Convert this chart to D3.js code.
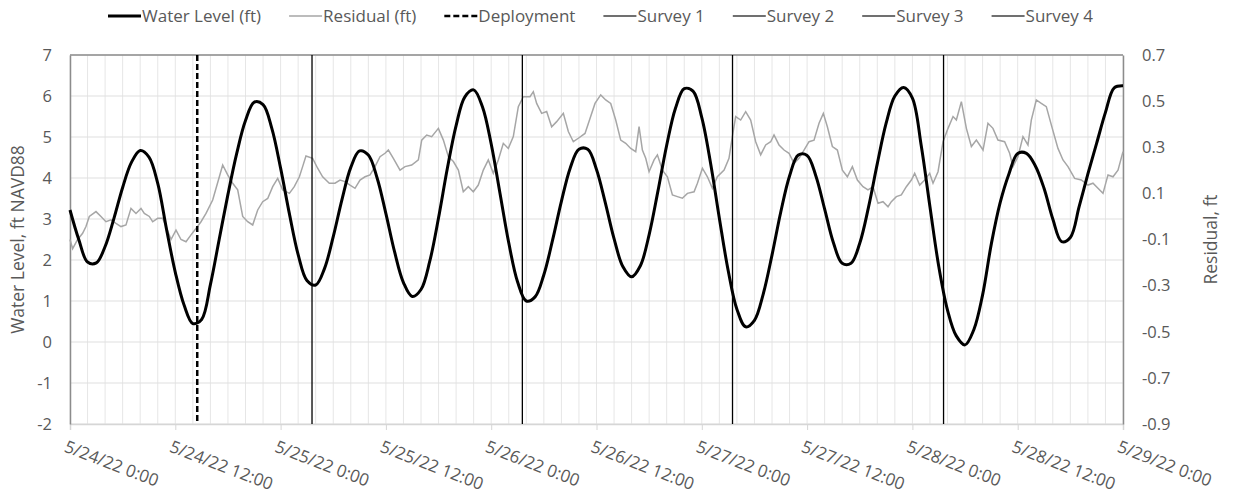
<!DOCTYPE html>
<html>
<head>
<meta charset="utf-8">
<script src="https://cdn.jsdelivr.net/npm/d3@7"></script>
<style>
  body { margin: 0; background: #fff; }
  svg text { font-family: "Open Sans", Lato, sans-serif; fill: #595959; }
</style>
</head>
<body>
<div id="chart"></div>
<script>
// water level every hour from 5/24/22 0:00 (ft NAVD88)
const waterLevel = [3.22, 2.5, 1.95, 1.93, 2.33, 3.01, 3.77, 4.38, 4.67, 4.51,
  3.87, 2.75, 1.7, 0.9, 0.45, 0.55, 1.4, 2.5, 3.6, 4.6,
  5.4, 5.85, 5.79, 5.21, 4.24, 3.13, 2.13, 1.5, 1.39, 1.79,
  2.57, 3.48, 4.26, 4.66, 4.56, 4.0, 3.13, 2.19, 1.45, 1.11,
  1.28, 1.97, 3.03, 4.23, 5.28, 5.98, 6.15, 5.74, 4.83, 3.63,
  2.42, 1.47, 1.0, 1.1, 1.64, 2.49, 3.43, 4.24, 4.7, 4.7,
  4.21, 3.4, 2.52, 1.84, 1.59, 1.86, 2.62, 3.68, 4.8, 5.7,
  6.18, 6.12, 5.47, 4.36, 3.02, 1.75, 0.8, 0.37, 0.53, 1.17,
  2.12, 3.17, 4.05, 4.56, 4.55, 4.05, 3.24, 2.42, 1.92, 1.92,
  2.41, 3.29, 4.35, 5.33, 6.0, 6.21, 5.95, 4.8, 3.3, 1.85,
  0.78, 0.15, -0.07, 0.3, 1.15, 2.4, 3.4, 4.1, 4.6, 4.6,
  4.3, 3.75, 3.0, 2.45, 2.55, 3.3, 4.1, 4.85, 5.6, 6.2, 6.25];

// residual (ft): hours after 5/24/22 0:00 and value
const resHours = [0, 0.3, 0.87, 1.44, 1.82, 2.2, 2.96, 3.53, 4.1, 4.67, 5.24, 5.81, 6.38, 6.95, 7.52, 8.09, 8.47, 9.04, 9.42, 9.99,
  10.56, 10.94, 11.51, 12.08, 12.65, 13.22, 13.79, 14.36, 14.93, 15.5, 16.26, 17.02, 17.4, 17.97, 18.54, 19.11, 19.68, 20.25, 20.82, 21.39,
  21.96, 22.53, 23.1, 23.67, 24.24, 25.0, 25.56, 26.14, 26.51, 26.89, 27.65, 28.22, 28.79, 29.55, 30.2, 30.77, 31.34, 31.91, 32.48, 33.05,
  33.62, 34.19, 34.76, 35.33, 35.9, 36.28, 36.85, 37.61, 38.18, 38.94, 39.7, 40.08, 40.65, 41.22, 41.98, 42.55, 43.12, 43.69, 44.26, 44.82,
  45.39, 45.96, 46.53, 47.1, 47.67, 48.24, 48.81, 49.38, 49.95, 50.52, 51.09, 51.66, 52.42, 52.8, 53.18, 53.75, 54.32, 54.89, 55.46, 56.22,
  56.79, 57.36, 57.93, 58.69, 59.26, 59.83, 60.48, 61.05, 61.62, 62.19, 62.76, 63.33, 63.9, 64.47, 64.85, 65.23, 65.61, 65.99, 66.56, 66.94,
  67.51, 68.08, 68.65, 69.22, 69.79, 70.36, 71.12, 71.5, 72.07, 72.64, 73.21, 73.77, 74.54, 75.1, 75.48, 75.86, 76.43, 77.0, 77.57, 78.14,
  78.71, 79.28, 79.85, 80.23, 80.8, 81.37, 81.94, 82.51, 83.08, 83.65, 84.22, 84.79, 85.36, 85.85, 86.31, 86.88, 87.45, 88.02, 88.59, 89.16,
  89.73, 90.37, 90.94, 91.51, 92.08, 92.65, 93.22, 93.6, 94.17, 94.74, 95.31, 95.88, 96.26, 96.83, 97.4, 97.97, 98.35, 98.92, 99.49, 100.06,
  100.63, 101.01, 101.58, 102.15, 102.72, 103.29, 104.05, 104.61, 105.18, 105.75, 106.51, 107.08, 107.46, 108.03, 108.6, 109.17, 109.55, 110.12, 110.69, 111.26,
  111.83, 112.59, 113.16, 113.73, 114.49, 115.25, 116.01, 116.58, 117.15, 117.72, 118.29, 118.86, 119.43, 120];
const residual = [-0.1, -0.14, -0.1, -0.073, -0.044, 0.0, 0.021, 0.0, -0.023, -0.015, -0.03, -0.044, -0.037, 0.035, 0.013, 0.035, 0.013, 0.0, -0.023, -0.008,
  -0.008, -0.044, -0.1, -0.059, -0.1, -0.11, -0.08, -0.052, -0.023, 0.013, 0.071, 0.172, 0.223, 0.18, 0.144, 0.115, 0.0, -0.023, -0.037, 0.028,
  0.064, 0.078, 0.129, 0.165, 0.115, 0.1, 0.129, 0.172, 0.216, 0.262, 0.252, 0.209, 0.172, 0.144, 0.144, 0.158, 0.151, 0.136, 0.122, 0.158,
  0.172, 0.18, 0.216, 0.259, 0.274, 0.288, 0.252, 0.201, 0.216, 0.223, 0.245, 0.331, 0.353, 0.346, 0.382, 0.331, 0.259, 0.238, 0.201, 0.107,
  0.129, 0.107, 0.136, 0.201, 0.245, 0.187, 0.245, 0.317, 0.295, 0.346, 0.476, 0.519, 0.519, 0.541, 0.49, 0.447, 0.455, 0.389, 0.411, 0.447,
  0.368, 0.324, 0.339, 0.36, 0.425, 0.49, 0.527, 0.505, 0.49, 0.418, 0.331, 0.317, 0.295, 0.281, 0.389, 0.288, 0.252, 0.194, 0.245, 0.267,
  0.201, 0.172, 0.093, 0.086, 0.079, 0.1, 0.107, 0.144, 0.209, 0.172, 0.122, 0.172, 0.201, 0.252, 0.346, 0.433, 0.418, 0.454, 0.418, 0.324,
  0.267, 0.31, 0.324, 0.353, 0.31, 0.288, 0.274, 0.23, 0.252, 0.288, 0.324, 0.331, 0.404, 0.447, 0.389, 0.303, 0.288, 0.201, 0.172, 0.216,
  0.158, 0.129, 0.115, 0.129, 0.057, 0.064, 0.042, 0.064, 0.086, 0.093, 0.129, 0.158, 0.187, 0.136, 0.158, 0.187, 0.144, 0.194, 0.324, 0.382,
  0.433, 0.418, 0.498, 0.382, 0.303, 0.331, 0.288, 0.404, 0.382, 0.331, 0.324, 0.274, 0.216, 0.259, 0.346, 0.31, 0.418, 0.505, 0.49, 0.476,
  0.397, 0.295, 0.245, 0.216, 0.165, 0.158, 0.136, 0.144, 0.122, 0.1, 0.18, 0.172, 0.201, 0.281];

// event lines, hours after 5/24/22 0:00
const eventNames = ["Deployment", "Survey 1", "Survey 2", "Survey 3", "Survey 4"];
const eventHours = [14.5, 27.58, 51.55, 75.5, 99.55];

const leftTicks = [-2, -1, 0, 1, 2, 3, 4, 5, 6, 7];
const rightTicks = [-0.9, -0.7, -0.5, -0.3, -0.1, 0.1, 0.3, 0.5, 0.7];

const W = 1233, H = 497;
const margin = {left: 70, right: 110, top: 55, bottom: 73};
const start = new Date(2022, 4, 24, 0, 0);
const end = new Date(2022, 4, 29, 0, 0);
const hourToDate = h => new Date(start.getTime() + h * 3600 * 1000);

const svg = d3.select("#chart").append("svg")
  .attr("width", W).attr("height", H);

const x = d3.scaleTime().domain([start, end]).range([margin.left, W - margin.right]);
const y = d3.scaleLinear().domain([-2, 7]).range([H - margin.bottom, margin.top]);
const y2 = d3.scaleLinear().domain([-0.9, 0.7]).range([H - margin.bottom, margin.top]);

// grid
const grid = svg.append("g");
grid.selectAll(".vg").data(d3.timeHour.every(2).range(start, d3.timeHour.offset(end, 1)))
  .enter().append("line")
  .attr("x1", d => x(d)).attr("x2", d => x(d))
  .attr("y1", y(-2)).attr("y2", y(7))
  .attr("stroke", "#e6e6e6").attr("stroke-width", 1);
grid.selectAll(".hg").data(leftTicks)
  .enter().append("line")
  .attr("x1", x(start)).attr("x2", x(end))
  .attr("y1", d => y(d)).attr("y2", d => y(d))
  .attr("stroke", "#e0e0e0").attr("stroke-width", 1.2);

// bottom axis
const xAxis = svg.append("g")
  .attr("transform", "translate(0," + y(-2) + ")")
  .call(d3.axisBottom(x).ticks(d3.timeHour.every(12)).tickSize(6)
    .tickFormat(d3.timeFormat("%-m/%-d/%y %-H:%M")));
xAxis.select(".domain").attr("stroke", "#d6d6d6").attr("stroke-width", 1.5);
xAxis.selectAll(".tick line").attr("stroke", "#d6d6d6");
xAxis.selectAll(".tick text")
  .attr("font-size", 17)
  .attr("text-anchor", "start")
  .attr("y", 0).attr("dy", "0.71em")
  .attr("transform", "translate(-3,16) rotate(21)");

// left axis
const yAxis = svg.append("g")
  .attr("transform", "translate(" + margin.left + ",0)")
  .call(d3.axisLeft(y).tickValues(leftTicks).tickSize(0).tickPadding(18).tickFormat(d => String(d)));
yAxis.select(".domain").attr("stroke", "#8c8c8c").attr("stroke-width", 1.5);
yAxis.selectAll(".tick text").attr("font-size", 16.5);

// right axis
const y2Axis = svg.append("g")
  .attr("transform", "translate(" + (W - margin.right) + ",0)")
  .call(d3.axisRight(y2).tickValues(rightTicks).tickSize(0).tickPadding(19).tickFormat(d => d.toFixed(1)));
y2Axis.select(".domain").attr("stroke", "#8c8c8c").attr("stroke-width", 1.5);
y2Axis.selectAll(".tick text").attr("font-size", 16.5);

// top border
svg.append("line")
  .attr("x1", x(start)).attr("x2", x(end))
  .attr("y1", y(7)).attr("y2", y(7))
  .attr("stroke", "#8c8c8c").attr("stroke-width", 1.5);

// axis titles
svg.append("text")
  .attr("transform", "translate(24," + y(2.5) + ") rotate(-90)")
  .attr("text-anchor", "middle")
  .attr("font-size", 17.5)
  .text("Water Level, ft NAVD88");
svg.append("text")
  .attr("transform", "translate(1217," + y(2.5) + ") rotate(-90)")
  .attr("text-anchor", "middle")
  .attr("font-size", 17.5)
  .text("Residual, ft");

// residual line
const resData = resHours.map((h, i) => ({t: hourToDate(h), v: residual[i]}));
svg.append("path")
  .datum(resData)
  .attr("fill", "none")
  .attr("stroke", "#a6a6a6")
  .attr("stroke-width", 1.5)
  .attr("d", d3.line().x(d => x(d.t)).y(d => y2(d.v)));

// event lines
svg.selectAll(".event").data(eventHours)
  .enter().append("line")
  .attr("x1", d => x(hourToDate(d))).attr("x2", d => x(hourToDate(d)))
  .attr("y1", y(7)).attr("y2", y(-2))
  .attr("stroke", "#000")
  .attr("stroke-width", (d, i) => i === 0 ? 2.5 : 1.3)
  .attr("stroke-dasharray", (d, i) => i === 0 ? "6,3" : null);

// water level line
const wlData = waterLevel.map((v, i) => ({t: hourToDate(i), v: v}));
svg.append("path")
  .datum(wlData)
  .attr("fill", "none")
  .attr("stroke", "#000")
  .attr("stroke-width", 3)
  .attr("stroke-linejoin", "round")
  .attr("d", d3.line().curve(d3.curveCatmullRom.alpha(0.5)).x(d => x(d.t)).y(d => y(d.v)));

// legend
const legendItems = [
  {name: "Water Level (ft)", color: "#000", width: 3, dash: null},
  {name: "Residual (ft)", color: "#a6a6a6", width: 1.5, dash: null},
  {name: eventNames[0], color: "#000", width: 2.5, dash: "6,3"},
  {name: eventNames[1], color: "#404040", width: 1.5, dash: null},
  {name: eventNames[2], color: "#404040", width: 1.5, dash: null},
  {name: eventNames[3], color: "#404040", width: 1.5, dash: null},
  {name: eventNames[4], color: "#404040", width: 1.5, dash: null}
];
const legend = svg.append("g").attr("transform", "translate(0,16)");
let lx = 108;
legendItems.forEach(function(item) {
  legend.append("line")
    .attr("x1", lx).attr("x2", lx + 33)
    .attr("y1", 0).attr("y2", 0)
    .attr("stroke", item.color)
    .attr("stroke-width", item.width)
    .attr("stroke-dasharray", item.dash);
  const t = legend.append("text")
    .attr("x", lx + 34).attr("y", 0).attr("dy", "0.35em")
    .attr("font-size", 17)
    .text(item.name);
  lx = lx + 34 + t.node().getComputedTextLength() + 28;
});
</script>
</body>
</html>
